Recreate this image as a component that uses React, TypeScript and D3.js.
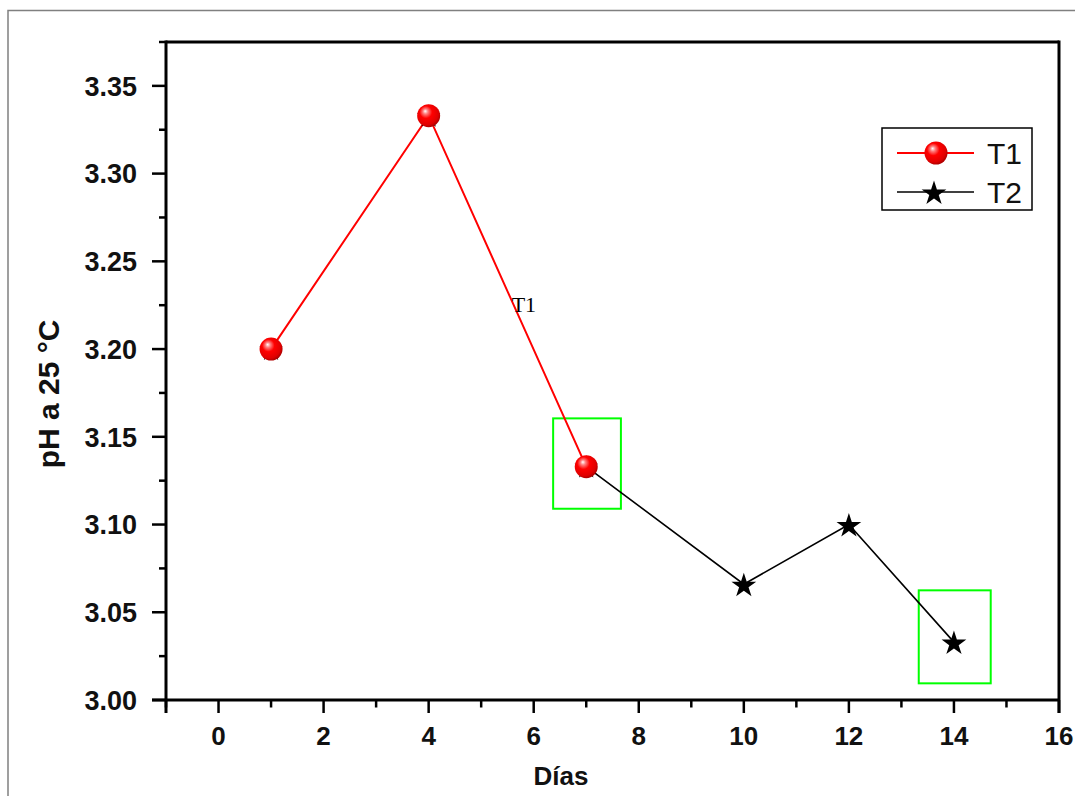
import React from "react";
import * as d3 from "d3";

const t1Days = [1, 4, 7];
const t1Values = [3.2, 3.333, 3.133];
const t2Days = [7, 10, 12, 14];
const t2Values = [3.133, 3.066, 3.1, 3.033];
const xTicks = [0, 2, 4, 6, 8, 10, 12, 14, 16];
const yTicks = [3.0, 3.05, 3.1, 3.15, 3.2, 3.25, 3.3, 3.35];
const seriesNames = ["T1", "T2"];
const highlightBoxes = [
  { x0: 6.37, x1: 7.66, y0: 3.1605, y1: 3.109 },
  { x0: 13.33, x1: 14.7, y0: 3.0625, y1: 3.0095 },
];
const annotation = { x: 5.58, y: 3.221, text: "T1" };

export default function App() {
  const W = 1075, H = 796;
  const L = 166, R = 1059, T = 42, B = 700;
  const x = d3.scaleLinear().domain([-1, 16]).range([L, R]);
  const y = d3.scaleLinear().domain([3.0, 3.375]).range([B, T]);
  const xMinor = d3.range(-1, 16, 1).filter((v) => v % 2 !== 0);
  const yMinor = d3.range(0, 8).map((i) => 3.025 + i * 0.05);
  const line = d3.line<[number, number]>().x((d) => x(d[0])).y((d) => y(d[1]));
  const t1 = t1Days.map((d, i) => [d, t1Values[i]] as [number, number]);
  const t2 = t2Days.map((d, i) => [d, t2Values[i]] as [number, number]);
  const star = d3.symbol().type(d3.symbolStar).size(190)() as string;
  const smallStar = d3.symbol().type(d3.symbolStar).size(170)() as string;
  const font = "Arial, 'Liberation Sans', sans-serif";

  const Sphere = ({ cx, cy, r }: { cx: number; cy: number; r: number }) => (
    <g>
      <path d={smallStar} transform={`translate(${cx},${cy + 1})`} fill="#000" />
      <circle cx={cx} cy={cy} r={r} fill="url(#sph)" />
    </g>
  );

  return (
    <svg width={W} height={H} style={{ position: "absolute", left: 0, top: 0, background: "#fff" }}>
      <defs>
        <radialGradient id="sph" cx="0.42" cy="0.4" r="0.6" fx="0.35" fy="0.3">
          <stop offset="0" stopColor="#ffffff" />
          <stop offset="0.18" stopColor="#ff8080" />
          <stop offset="0.45" stopColor="#ff0000" />
          <stop offset="0.85" stopColor="#e00000" />
          <stop offset="1" stopColor="#b00000" />
        </radialGradient>
      </defs>
      {/* outer gray frame */}
      <rect x={8} y={10.5} width={1100} height={820} fill="none" stroke="#808080" strokeWidth={1.5} />

      {/* highlight boxes */}
      {highlightBoxes.map((b, i) => (
        <rect key={i} x={x(b.x0)} y={y(b.y0)} width={x(b.x1) - x(b.x0)} height={y(b.y1) - y(b.y0)}
          fill="none" stroke="#00ff00" strokeWidth={2} />
      ))}

      {/* lines */}
      <path d={line(t2) || ""} fill="none" stroke="#000" strokeWidth={1.6} />
      <path d={line(t1) || ""} fill="none" stroke="#ff0000" strokeWidth={2} />

      {/* markers */}
      {t2.slice(1).map((d, i) => (
        <path key={i} d={star} transform={`translate(${x(d[0])},${y(d[1]) + 1.5})`} fill="#000" />
      ))}
      {t1.map((d, i) => (
        <Sphere key={i} cx={x(d[0])} cy={y(d[1])} r={11.5} />
      ))}

      {/* annotation */}
      <text x={x(annotation.x)} y={y(annotation.y)} fontFamily="'Times New Roman', 'Liberation Serif', serif" fontSize={22} fill="#000">{annotation.text}</text>

      {/* axes frame */}
      <line x1={L} y1={T} x2={R} y2={T} stroke="#000" strokeWidth={3} />
      <line x1={R} y1={T - 1.5} x2={R} y2={B + 13} stroke="#000" strokeWidth={3} />
      <line x1={L} y1={T - 1.5} x2={L} y2={B + 13} stroke="#000" strokeWidth={3} />
      <line x1={L - 14} y1={B} x2={R} y2={B} stroke="#000" strokeWidth={3} />

      {/* y ticks */}
      {yTicks.map((v) => (
        <g key={v}>
          <line x1={L - 14} x2={L} y1={y(v)} y2={y(v)} stroke="#000" strokeWidth={2.5} />
          <text x={L - 29} y={y(v)} dy="0.36em" textAnchor="end" fontFamily={font} fontWeight="bold" fontSize={27} fill="#111">{v.toFixed(2)}</text>
        </g>
      ))}
      {yMinor.map((v) => (
        <line key={v} x1={L - 7} x2={L} y1={y(v)} y2={y(v)} stroke="#000" strokeWidth={2.5} />
      ))}

      {/* x ticks */}
      {xTicks.map((v) => (
        <g key={v}>
          <line x1={x(v)} x2={x(v)} y1={B} y2={B + 13} stroke="#000" strokeWidth={2.5} />
          <text x={x(v)} y={745} textAnchor="middle" fontFamily={font} fontWeight="bold" fontSize={26} fill="#111">{v}</text>
        </g>
      ))}
      {xMinor.map((v) => (
        <line key={v} x1={x(v)} x2={x(v)} y1={B} y2={B + 7.5} stroke="#000" strokeWidth={2.5} />
      ))}

      {/* axis titles */}
      <text x={561} y={785} textAnchor="middle" fontFamily={font} fontWeight="bold" fontSize={26} fill="#111">Días</text>
      <text transform="translate(59,394) rotate(-90)" textAnchor="middle" fontFamily={font} fontWeight="bold" fontSize={30} fill="#111">pH a 25 °C</text>

      {/* legend */}
      <rect x={882} y={128} width={150} height={82} fill="#fff" stroke="#000" strokeWidth={1.5} />
      <line x1={897} x2={974} y1={153} y2={153} stroke="#ff0000" strokeWidth={2} />
      <circle cx={936} cy={153} r={11.5} fill="url(#sph)" />
      <text x={987} y={164} fontFamily={font} fontSize={30} fill="#111">{seriesNames[0]}</text>
      <line x1={897} x2={974} y1={192} y2={192} stroke="#000" strokeWidth={1.6} />
      <path d={star} transform="translate(934,193.5)" fill="#000" />
      <text x={987} y={203} fontFamily={font} fontSize={30} fill="#111">{seriesNames[1]}</text>
    </svg>
  );
}
